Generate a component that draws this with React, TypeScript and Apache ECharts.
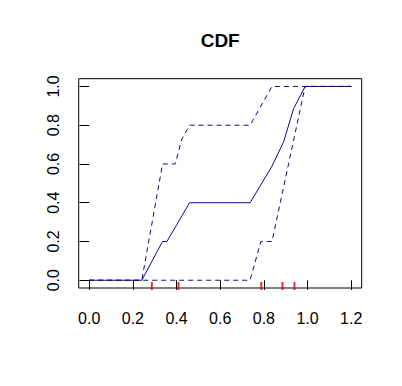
import React, { useEffect, useRef } from "react";
import * as echarts from "echarts";

const xTicks = [0, 0.2, 0.4, 0.6, 0.8, 1.0, 1.2];
const yTicks = [0, 0.2, 0.4, 0.6, 0.8, 1.0];

const cdfX = [0, 0.241, 0.336, 0.356, 0.46, 0.737, 0.837, 0.89, 0.936, 0.989, 1.2];
const cdfY = [0, 0, 0.2, 0.2, 0.4, 0.4, 0.588, 0.713, 0.885, 1, 1];

const upperX = [0, 0.241, 0.336, 0.394, 0.425, 0.46, 0.737, 0.837, 1.2];
const upperY = [0, 0, 0.6, 0.6, 0.73, 0.8, 0.8, 1, 1];

const lowerX = [0, 0.737, 0.786, 0.837, 0.989, 1.2];
const lowerY = [0, 0, 0.2, 0.2, 1, 1];

const rugX = [0.287, 0.409, 0.788, 0.885, 0.94];

const FONT = "Liberation Sans, Arial, Helvetica, sans-serif";
const LINE_COLOR = "#0a0a96";

function pairs(xs: number[], ys: number[]) {
  return xs.map((x, i) => [x, ys[i]]);
}

export default function App() {
  const ref = useRef<HTMLDivElement>(null);
  useEffect(() => {
    document.body.style.margin = "0";
    if (!ref.current) return;
    const chart = echarts.init(ref.current, null, { renderer: "svg" });
    const fmt = (v: number) => v.toFixed(1);
    chart.setOption({
      animation: false,
      backgroundColor: "#ffffff",
      grid: {
        left: 78.7,
        top: 78.7,
        right: 40.3,
        bottom: 98,
        show: true,
        borderColor: "#000000",
        borderWidth: 1,
        backgroundColor: "transparent",
      },
      graphic: [
        {
          type: "text",
          x: 220.2,
          y: 40.5,
          style: {
            text: "CDF",
            font: `bold 19px ${FONT}`,
            fill: "#000000",
            textAlign: "center",
            textVerticalAlign: "middle",
          },
        },
      ],
      xAxis: {
        type: "value",
        min: -0.048,
        max: 1.248,
        splitLine: { show: false },
        axisLine: { show: false },
        axisTick: {
          show: true,
          length: 9.6,
          inside: false,
          customValues: xTicks,
          lineStyle: { color: "#000000", width: 1 },
        },
        axisLabel: {
          show: true,
          customValues: xTicks,
          formatter: fmt,
          fontSize: 16,
          fontFamily: FONT,
          color: "#000000",
          margin: 22,
        },
      },
      yAxis: {
        type: "value",
        min: -0.04,
        max: 1.04,
        splitLine: { show: false },
        axisLine: { show: false },
        axisTick: {
          show: true,
          length: 9.6,
          inside: false,
          customValues: yTicks,
          lineStyle: { color: "#000000", width: 1 },
        },
        axisLabel: {
          show: true,
          customValues: yTicks,
          formatter: fmt,
          rotate: 90,
          fontSize: 16,
          fontFamily: FONT,
          color: "#000000",
          margin: 17,
        },
      },
      series: [
        {
          type: "line",
          data: pairs(lowerX, lowerY),
          showSymbol: false,
          symbol: "none",
          lineStyle: { color: LINE_COLOR, width: 1, type: [5, 4] },
          z: 3,
        },
        {
          type: "line",
          data: pairs(upperX, upperY),
          showSymbol: false,
          symbol: "none",
          lineStyle: { color: LINE_COLOR, width: 1, type: [5, 4] },
          z: 3,
        },
        {
          type: "line",
          data: pairs(cdfX, cdfY),
          showSymbol: false,
          symbol: "none",
          lineStyle: { color: LINE_COLOR, width: 1, type: "solid" },
          z: 4,
        },
        {
          type: "scatter",
          data: rugX.map((x) => [x, -0.04]),
          symbol: "rect",
          symbolSize: [2, 8],
          symbolOffset: [0, -2],
          itemStyle: { color: "#e00000" },
          clip: false,
          z: 5,
        },
      ],
    });
    return () => chart.dispose();
  }, []);
  return (
    <div
      ref={ref}
      style={{ position: "fixed", left: 0, top: 0, width: 402, height: 386 }}
    />
  );
}
